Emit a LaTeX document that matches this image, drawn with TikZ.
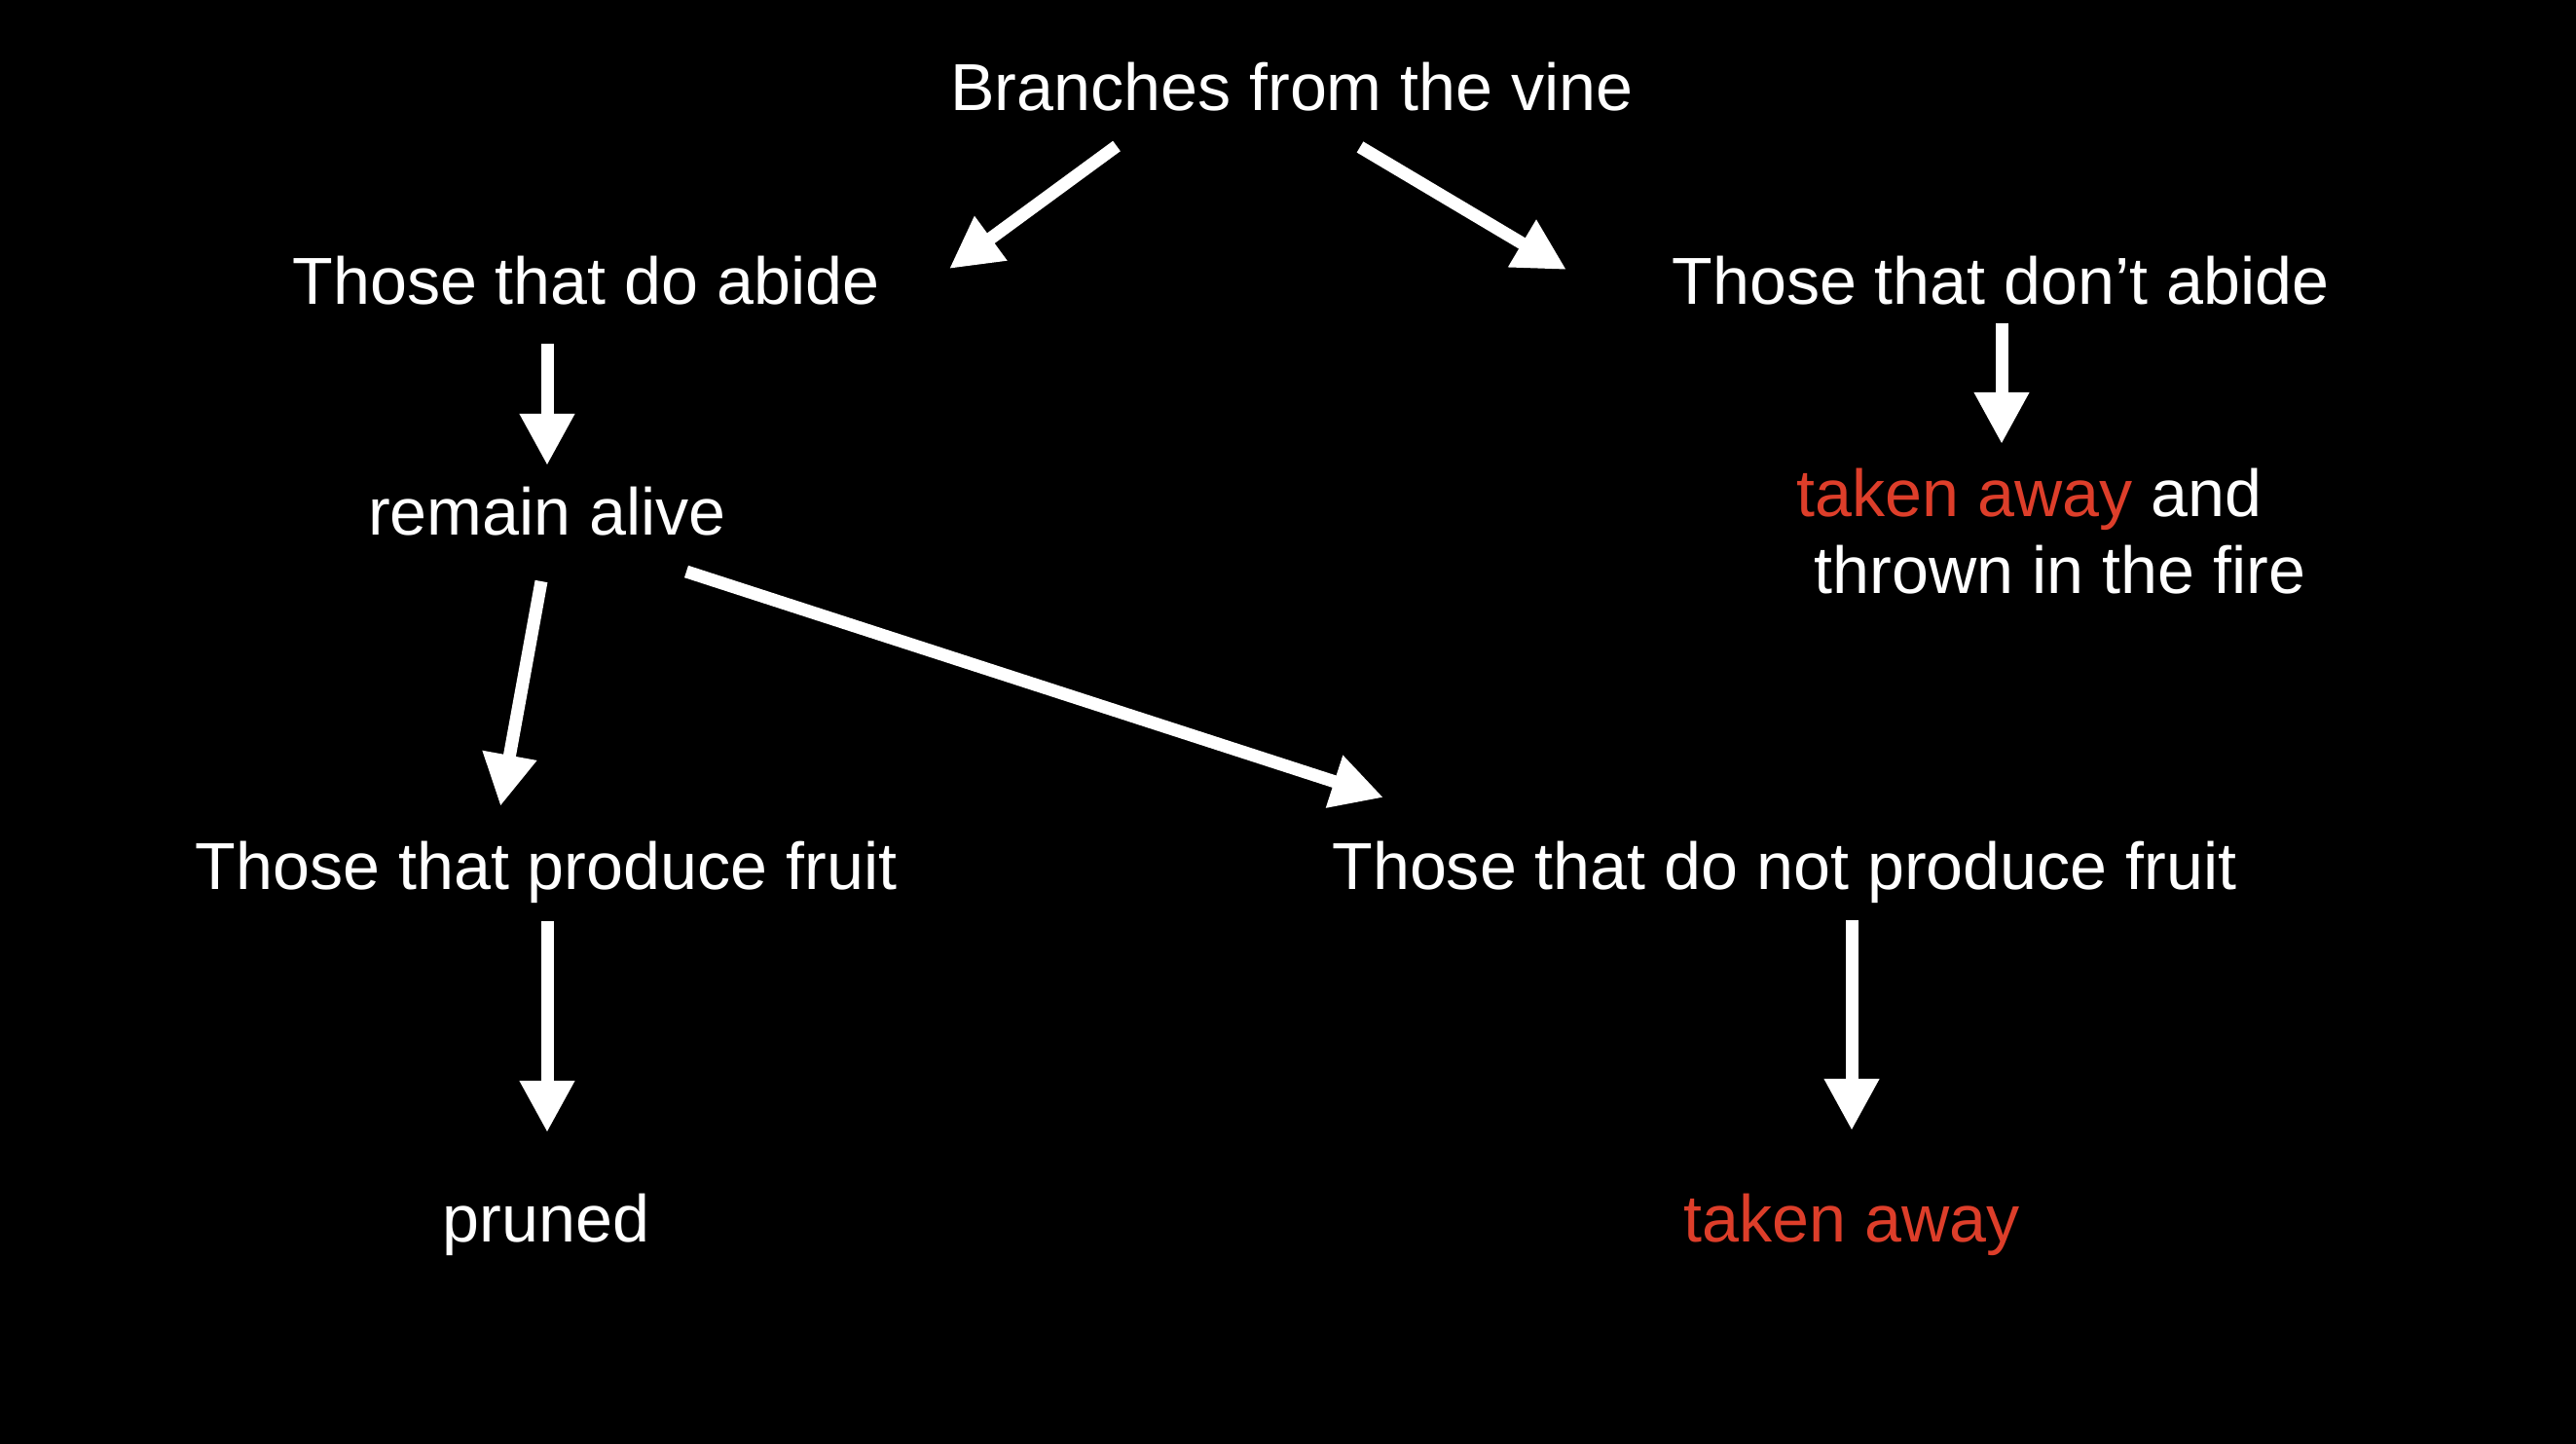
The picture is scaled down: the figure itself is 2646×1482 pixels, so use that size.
\documentclass[tikz,border=0pt]{standalone}
\usepackage{fontspec}
\setmainfont{Liberation Sans}
\usetikzlibrary{arrows.meta,calc}
\definecolor{awayred}{RGB}{221,62,42}

\begin{document}
\begin{tikzpicture}[x=0.01cm,y=-0.01cm,
  lbl/.style={text=white,inner sep=0pt,anchor=base,font=\fontsize{19.4}{23.3}\selectfont},
  arr/.style={white,line width=0.13cm,-{Triangle[length=0.53cm,width=0.53cm]}}]
 \useasboundingbox (0,0) rectangle (2646,1482);
 \fill[black] (-10,-10) rectangle (2656,1492);
 % the texts
 \node[lbl] (vine) at (1327,114) {Branches from the vine};
 \node[lbl] (doabide) at (602,312) {Those that do abide};
 \node[lbl] (dontabide) at (2055,312) {Those that don’t abide};
 \node[lbl] (alive) at (562,549) {remain alive};
 \node[lbl,anchor=base west] (fire1) at (1845,530) {\textcolor{awayred}{taken away} and};
 \node[lbl,anchor=base west] (fire2) at (1863,609) {thrown in the fire};
 \node[lbl] (fruit) at (561,913) {Those that produce fruit};
 \node[lbl] (nofruit) at (1833,913) {Those that do not produce fruit};
 \node[lbl] (pruned) at (561,1275) {pruned};
 \node[lbl,text=awayred] (away) at (1902,1275) {taken away};
 % the arrows
 \draw[arr] ($(vine.base)+(-180,36)$) -- ($(doabide.base)+(373,-36)$);
 \draw[arr] ($(vine.base)+(70,37)$) -- ($(dontabide.base)+(-446,-35)$);
 \draw[arr] ($(doabide.base)+(-40,41)$) -- ($(alive.base)+(0,-71)$);
 \draw[arr] ($(dontabide.base)+(1,20)$) -- ($(fire1.base west)+(211,-74)$);
 \draw[arr] ($(alive.base)+(-6,48)$) -- ($(fruit.base)+(-47,-85)$);
 \draw[arr] ($(alive.base)+(143,38)$) -- ($(nofruit.base)+(-412,-94)$);
 \draw[arr] ($(fruit.base)+(1,33)$) -- ($(pruned.base)+(1,-112)$);
 \draw[arr] ($(nofruit.base)+(69,32)$) -- ($(away.base)+(0,-114)$);
\end{tikzpicture}
\end{document}
